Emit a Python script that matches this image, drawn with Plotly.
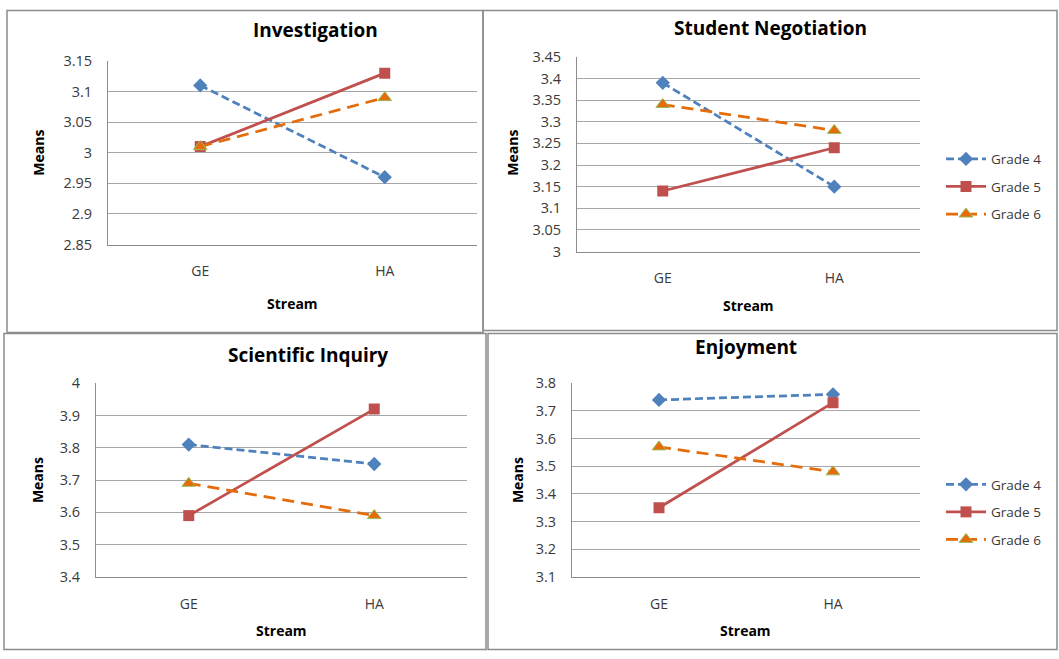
import plotly.graph_objects as go

W, H = 1059, 659

categories = ["GE", "HA"]
series_names = ["Grade 4", "Grade 5", "Grade 6"]

investigation = {"Grade 4": [3.11, 2.96], "Grade 5": [3.01, 3.13], "Grade 6": [3.01, 3.09]}
negotiation = {"Grade 4": [3.39, 3.15], "Grade 5": [3.14, 3.24], "Grade 6": [3.34, 3.28]}
inquiry = {"Grade 4": [3.81, 3.75], "Grade 5": [3.59, 3.92], "Grade 6": [3.69, 3.59]}
enjoyment = {"Grade 4": [3.74, 3.76], "Grade 5": [3.35, 3.73], "Grade 6": [3.57, 3.48]}

inv_ticks = [2.85, 2.9, 2.95, 3, 3.05, 3.1, 3.15]
neg_ticks = [3, 3.05, 3.1, 3.15, 3.2, 3.25, 3.3, 3.35, 3.4, 3.45]
inq_ticks = [3.4, 3.5, 3.6, 3.7, 3.8, 3.9, 4]
enj_ticks = [3.1, 3.2, 3.3, 3.4, 3.5, 3.6, 3.7, 3.8]

FONT = "Open Sans"
TICK_COLOR = "#3A3A3A"
BLUE, RED, ORANGE, OLIVE = "#4F81BD", "#C0504D", "#E46C0A", "#9BBB59"
styles = {
    "Grade 4": dict(line=dict(color=BLUE, width=2.75, dash="8px,4px"),
                    marker=dict(symbol="diamond", size=11, color=BLUE)),
    "Grade 5": dict(line=dict(color=RED, width=2.75),
                    marker=dict(symbol="square", size=11, color=RED)),
    "Grade 6": dict(line=dict(color=ORANGE, width=2.75, dash="12px,7px"),
                    marker=dict(symbol="triangle-up", size=12, color=ORANGE,
                                line=dict(color=OLIVE, width=1))),
}

def px_x(x):
    return x / W

def px_y(y):
    # vertical placement in the captured picture
    yp = (y - 9) / 0.973
    yp = min(max(yp, 0.5), H - 0.5)
    return 1 - yp / H

panels = [
    dict(title="Investigation", data=investigation, ticks=inv_ticks,
         box=(108, 477, 60, 244), tpos=(315, 29), mpos=(39, 152), spos=(292, 303),
         legend=None, border=(7, 483, 5, 332)),
    dict(title="Student Negotiation", data=negotiation, ticks=neg_ticks,
         box=(577, 920, 56, 251), tpos=(770, 27), mpos=(513, 152), spos=(748, 305),
         legend="legend", border=(483, 1057, 5, 330)),
    dict(title="Scientific Inquiry", data=inquiry, ticks=inq_ticks,
         box=(96, 467, 383, 577), tpos=(308, 355), mpos=(37, 480), spos=(281, 631),
         legend=None, border=(4, 486, 333, 657)),
    dict(title="Enjoyment", data=enjoyment, ticks=enj_ticks,
         box=(572, 920, 383, 577), tpos=(746, 347), mpos=(517, 480), spos=(745, 631),
         legend="legend2", border=(488, 1057, 333, 657)),
]

fig = go.Figure()
annotations = []
shapes = []

for i, p in enumerate(panels, start=1):
    xa = "x" if i == 1 else f"x{i}"
    ya = "y" if i == 1 else f"y{i}"
    for name in series_names:
        kw = dict(x=categories, y=p["data"][name], name=name, mode="lines+markers",
                  xaxis=xa, yaxis=ya, legendgroup=name, **styles[name])
        if p["legend"]:
            kw["legend"] = p["legend"]
            kw["showlegend"] = True
        else:
            kw["showlegend"] = False
        fig.add_trace(go.Scatter(**kw))

    x0, x1, yt, yb = p["box"]
    ticks = p["ticks"]
    xkey = "xaxis" if i == 1 else f"xaxis{i}"
    ykey = "yaxis" if i == 1 else f"yaxis{i}"
    fig.update_layout(**{
        xkey: dict(domain=[px_x(x0), px_x(x1)], anchor=ya, type="category",
                   range=[-0.5, 1.5], showgrid=False, showline=True,
                   linecolor="#8C8C8C", linewidth=1, ticks="", zeroline=False,
                   tickfont=dict(family=FONT, size=14, color=TICK_COLOR),
                   ticklabelstandoff=14, fixedrange=True),
        ykey: dict(domain=[px_y(yb), px_y(yt)], anchor=xa,
                   range=[ticks[0], ticks[-1]], tickvals=ticks,
                   ticktext=[f"{t:g}" for t in ticks],
                   showgrid=True, gridcolor="#A6A6A6", gridwidth=1,
                   showline=True, linecolor="#8C8C8C", linewidth=1,
                   zeroline=False, ticks="",
                   tickfont=dict(family=FONT, size=14.5, color=TICK_COLOR),
                   ticklabelstandoff=12, fixedrange=True),
    })

    tx, ty = p["tpos"]
    annotations.append(dict(text=f"<b>{p['title']}</b>", x=px_x(tx), y=px_y(ty),
                            xref="paper", yref="paper", showarrow=False,
                            xanchor="center", yanchor="middle",
                            font=dict(family=FONT, size=19, color="#000")))
    mx, my = p["mpos"]
    annotations.append(dict(text="<b>Means</b>", x=px_x(mx), y=px_y(my),
                            xref="paper", yref="paper", showarrow=False,
                            textangle=-90, xanchor="center", yanchor="middle",
                            font=dict(family=FONT, size=14, color="#000")))
    sx, sy = p["spos"]
    annotations.append(dict(text="<b>Stream</b>", x=px_x(sx), y=px_y(sy),
                            xref="paper", yref="paper", showarrow=False,
                            xanchor="center", yanchor="middle",
                            font=dict(family=FONT, size=14, color="#000")))
    bx0, bx1, by0, by1 = p["border"]
    shapes.append(dict(type="rect", xref="paper", yref="paper",
                       x0=px_x(bx0), x1=px_x(bx1), y0=px_y(by1), y1=px_y(by0),
                       line=dict(color="#8C8C8C", width=1.5), fillcolor="rgba(0,0,0,0)"))

legend_common = dict(xanchor="left", yanchor="middle", traceorder="grouped",
                     tracegroupgap=7, bgcolor="rgba(0,0,0,0)", itemwidth=40,
                     font=dict(family=FONT, size=13.5, color=TICK_COLOR),
                     itemclick=False, itemdoubleclick=False)

fig.update_layout(
    width=W, height=H,
    margin=dict(l=0, r=0, t=0, b=0),
    paper_bgcolor="white", plot_bgcolor="white",
    showlegend=True,
    legend=dict(x=px_x(941), y=px_y(186), **legend_common),
    legend2=dict(x=px_x(941), y=px_y(512), **legend_common),
    annotations=annotations,
    shapes=shapes,
)

fig.write_html(
    "out.html",
    config={"displayModeBar": False},
    post_script="document.body.style.margin='0';document.body.style.overflow='hidden';",
)
